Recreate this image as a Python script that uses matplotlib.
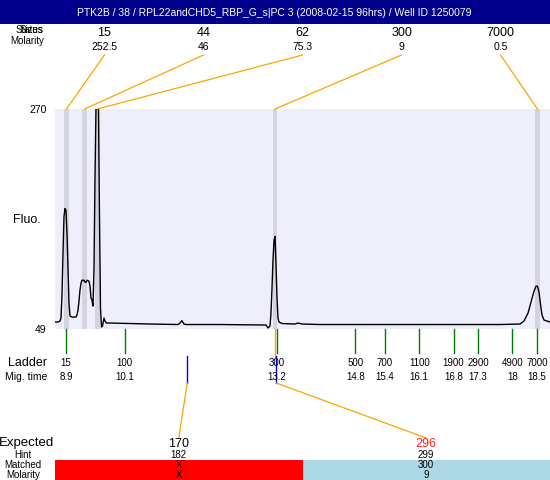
import numpy as np
import matplotlib
matplotlib.use('Agg')
import matplotlib.pyplot as plt
from matplotlib.patches import Rectangle

plt.rcParams['font.family'] = ['Liberation Sans', 'DejaVu Sans']

#%% data
title = 'PTK2B / 38 / RPL22andCHD5_RBP_G_s|PC 3 (2008-02-15 96hrs) / Well ID 1250079'

# electropherogram trace (migration time, fluorescence)
trace_t = [8.676, 8.737, 8.778, 8.798, 8.818, 8.839, 8.859, 8.880, 8.900, 8.920,
           8.941, 8.961, 8.982, 9.022, 9.104, 9.124, 9.145, 9.165, 9.185, 9.206,
           9.226, 9.267, 9.287, 9.308, 9.328, 9.369, 9.389, 9.410, 9.430, 9.450,
           9.471, 9.491, 9.511, 9.562, 9.583, 9.603, 9.624, 9.644, 9.675, 9.695,
           9.725, 9.797, 10.204, 10.612, 11.183, 11.224, 11.264, 11.305, 11.346, 12.039,
           12.976, 13.017, 13.058, 13.078, 13.099, 13.119, 13.140, 13.160, 13.180, 13.201,
           13.221, 13.241, 13.303, 13.568, 13.629, 13.710, 14.077, 15.708, 17.746, 18.153,
           18.235, 18.317, 18.378, 18.439, 18.480, 18.510, 18.541, 18.571, 18.602, 18.643,
           18.704, 18.765]
trace_v = [56, 56, 57, 60, 82, 125, 162, 170, 168, 145,
           110, 75, 62, 61, 61, 63, 68, 77, 88, 95,
           98, 98, 96, 96, 98, 97, 92, 80, 78, 72,
           110, 200, 270, 270, 160, 70, 51, 52, 60, 57,
           55, 55, 54.5, 54, 53.5, 55, 57.3, 54, 53.5, 53.5,
           53, 50, 52, 65, 90, 118, 138, 142, 115, 80,
           60, 56, 54.5, 54, 55, 54, 53.5, 53.5, 53.5, 54,
           57, 65, 76, 87, 92, 92, 86, 74, 63, 58,
           57, 56]
fluo_min, fluo_max = 49, 270

# detected peaks
peak_size = ['15', '44', '62', '300', '7000']
peak_molarity = ['252.5', '46', '75.3', '9', '0.5']
peak_time = [8.91, 9.28, 9.54, 13.16, 18.51]
matched_peak = [3]

# ladder
ladder_size = [15, 100, 300, 500, 700, 1100, 1900, 2900, 4900, 7000]
ladder_time = [8.9, 10.1, 13.2, 14.8, 15.4, 16.1, 16.8, 17.3, 18.0, 18.5]

# expected fragments
expected = ['170', '296']
expected_color = ['black', '#FF2020']
hint = [182, 299]
matched = ['X', '300']
matched_molarity = ['X', '9']
matched_color = ['#FF0000', '#ADD8E6']

#%% figure
W, H = 550, 480
fig = plt.figure(figsize=(W / 100, H / 100), dpi=100)

# main plot area (pixel box: x 55-550, y 109-329)
ax = fig.add_axes([55 / W, (H - 329) / H, 495 / W, 220 / H])
ax.set_facecolor('#EFEFFC')
ax.set_xlim(8.676, 18.765)
ax.set_ylim(fluo_min, fluo_max)
for s in ax.spines.values():
    s.set_visible(False)
ax.set_xticks([])
ax.set_yticks([fluo_min, fluo_max])
ax.set_yticklabels([str(fluo_min), str(fluo_max)], fontsize=7.5)
ax.tick_params(axis='y', length=0, pad=6)

for t in peak_time:
    ax.axvspan(t - 0.05, t + 0.05, color='#D4D4E0', lw=0, zorder=1)
ax.plot(trace_t, trace_v, color='black', lw=1.0, zorder=3, clip_on=True)

# overlay in figure pixels for the annotations
ov = fig.add_axes([0, 0, 1, 1], zorder=5)
ov.set_xlim(0, W)
ov.set_ylim(H, 0)
ov.axis('off')
ov.patch.set_visible(False)


def topix(t, v=fluo_min):
    x, y = ax.transData.transform((t, v))
    return x, H - y


# title bar
ov.add_patch(Rectangle((0, 0), W, 24, color='#00008B', lw=0))
ov.text(274, 13, title, color='white', fontsize=7.5, ha='center', va='center')

# peak table at top (row captions overlap, as in the source chart)
ov.text(43, 30, 'Sizes', fontsize=7, ha='right', va='center')
ov.text(43, 30, 'Status', fontsize=7, ha='right', va='center')
ov.text(44, 41, 'Molarity', fontsize=7, ha='right', va='center')
col_w = 495 / len(peak_size)
for i, t in enumerate(peak_time):
    cx = 55 + col_w * (i + 0.5)
    ov.text(cx, 33, peak_size[i], fontsize=9, ha='center', va='center')
    ov.text(cx, 47, peak_molarity[i], fontsize=7.5, ha='center', va='center')
    px, py = topix(t, fluo_max)
    ov.plot([cx, px], [55, py], color='#FFA500', lw=0.9)

ov.text(27, 220, 'Fluo.', fontsize=9, ha='center', va='center')

# ladder
ov.text(47, 363, 'Ladder', fontsize=9, ha='right', va='center')
ov.text(47, 377, 'Mig. time', fontsize=7.5, ha='right', va='center')
for s, t in zip(ladder_size, ladder_time):
    x, y0 = topix(t)
    ov.plot([x, x], [y0, 353], color='#007A00', lw=1)
    ov.text(x, 363, str(s), fontsize=7, ha='center', va='center')
    ov.text(x, 377, '%g' % t, fontsize=7, ha='center', va='center')

for i in matched_peak:
    x, y0 = topix(peak_time[i])
    ov.plot([x, x], [y0, 357], color='#FFA500', lw=1)

# expected fragments
ecol_w = 495 / len(expected)
for i in range(len(expected)):
    cx = 55 + ecol_w * (i + 0.5)
    bx, _ = topix(np.interp(hint[i], ladder_size, ladder_time))
    ov.plot([bx, bx], [356, 383], color='#0000FF', lw=1)
    ov.plot([bx, cx], [383, 438], color='#FFA500', lw=0.9)
    ov.add_patch(Rectangle((55 + ecol_w * i, 460), ecol_w, 20,
                           color=matched_color[i], lw=0))
    ov.text(cx, 444, expected[i], fontsize=9, color=expected_color[i],
            ha='center', va='center')
    ov.text(cx, 455, str(hint[i]), fontsize=7, ha='center', va='center')
    ov.text(cx, 465, matched[i], fontsize=7, ha='center', va='center')
    ov.text(cx, 474.5, matched_molarity[i], fontsize=7, ha='center', va='center')

ov.text(27, 443, 'Expected', fontsize=9.5, ha='center', va='center')
ov.text(23, 455, 'Hint', fontsize=7, ha='center', va='center')
ov.text(23, 465, 'Matched', fontsize=7, ha='center', va='center')
ov.text(23, 474.5, 'Molarity', fontsize=7, ha='center', va='center')

fig.savefig('out.png', dpi=100)
